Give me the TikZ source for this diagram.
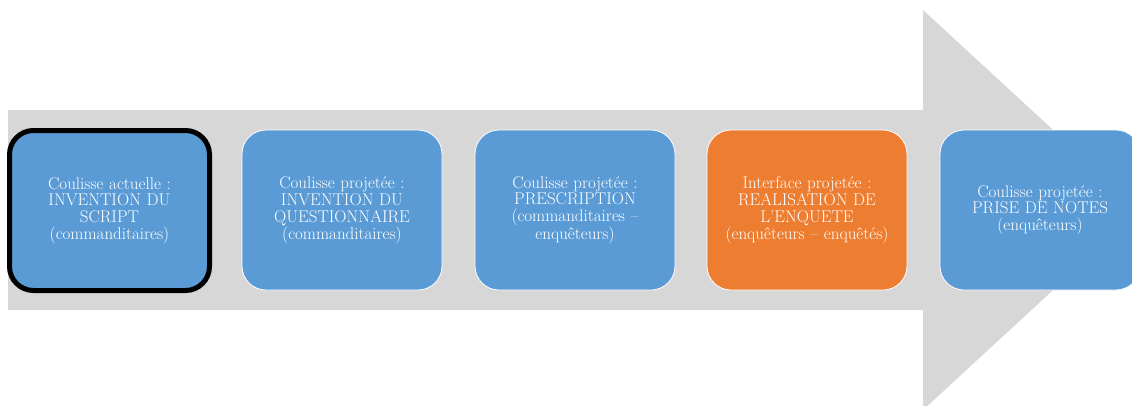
\documentclass[tikz,border=0pt]{standalone}
\usepackage{fontspec}
\definecolor{arrowgrey}{HTML}{D7D7D7}
\definecolor{boxblue}{HTML}{5B9BD5}
\definecolor{boxorange}{HTML}{ED7D31}
\begin{document}
\begin{tikzpicture}[x=1pt,y=-1pt,
  stage/.style={rectangle, rounded corners=24pt, minimum width=200pt, minimum height=160pt,
    text width=196pt, align=center, text=white, draw=white, line width=0.8pt, inner sep=0pt,
    font=\fontsize{17pt}{16.8pt}\selectfont},
  bluestage/.style={stage, fill=boxblue},
  orangestage/.style={stage, fill=boxorange},
  current/.style={draw=black, line width=5pt}]
\useasboundingbox (0,0) rectangle (1132,405);
\clip (0,0) rectangle (1132,405);
\fill[arrowgrey] (8,110) -- (923,110) -- (923,10) -- (1140,210) -- (923,410) -- (923,310) -- (8,310) -- cycle;
\node[bluestage, current] (b1) at (109.5,210.5) {Coulisse actuelle :\\INVENTION DU\\SCRIPT\\(commanditaires)};
\node[bluestage] (b2) at (342,210) {Coulisse projetée :\\INVENTION DU\\QUESTIONNAIRE\\(commanditaires)};
\node[bluestage] (b3) at (575,210) {Coulisse projetée :\\PRESCRIPTION\\(commanditaires –\\enquêteurs)};
\node[orangestage] (b4) at (807,210) {Interface projetée :\\REALISATION DE\\L’ENQUETE\\(enquêteurs – enquêtés)};
\node[bluestage] (b5) at (1040,210) {Coulisse projetée :\\PRISE DE NOTES\\(enquêteurs)};
\end{tikzpicture}
\end{document}
